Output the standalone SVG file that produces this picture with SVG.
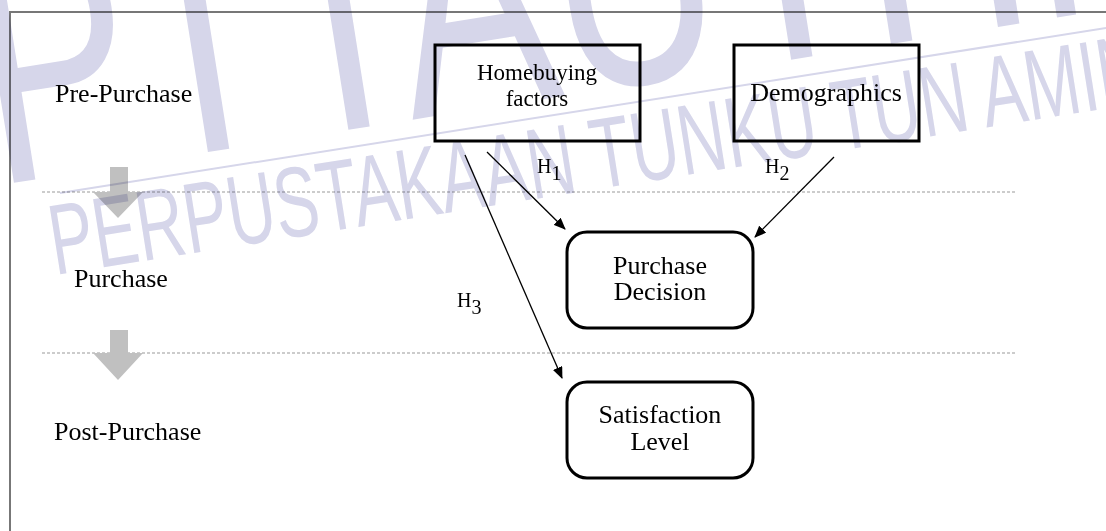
<svg xmlns="http://www.w3.org/2000/svg" width="1106" height="531" viewBox="0 0 1106 531">
<defs>
<marker id="ah" markerWidth="12" markerHeight="10" refX="11" refY="5" orient="auto" markerUnits="userSpaceOnUse">
<path d="M0,0 L12,5 L0,10 Z" fill="#000"/>
</marker>
</defs>
<style>
.lbl{font-family:"Liberation Serif","Times New Roman",serif;font-size:26px;fill:#000}
.hl{font-family:"Liberation Serif","Times New Roman",serif;font-size:20px;fill:#000}
.box{fill:#fff;stroke:#000;stroke-width:3}
.conn{stroke:#000;stroke-width:1.3;fill:none;marker-end:url(#ah)}
.dot{stroke:#999;stroke-width:1.2;stroke-dasharray:3 2}
.garrow{fill:#c0c0c0}
.wm{font-family:"Liberation Sans",Arial,sans-serif;fill:#d6d6ea;mix-blend-mode:multiply}
</style>
<rect width="1106" height="531" fill="#fff"/>
<g id="frame">
<path d="M10,531 L10,12 L1106,12" fill="none" stroke="#777" stroke-width="2"/>
</g>
<g id="stages">
<line class="dot" x1="42" y1="192" x2="1015" y2="192"/>
<line class="dot" x1="42" y1="353" x2="1015" y2="353"/>
<path class="garrow" d="M110,167 H128 V192 H143 L118,218 L93,192 H110 Z"/>
<path class="garrow" d="M110,330 H128 V353 H143 L118,380 L93,353 H110 Z"/>
<text class="lbl" x="55" y="102">Pre-Purchase</text>
<text class="lbl" x="74" y="287">Purchase</text>
<text class="lbl" x="54" y="440">Post-Purchase</text>
</g>
<g id="homebuying">
<rect class="box" x="435" y="45" width="205" height="96"/>
<text class="lbl" x="537" y="80" text-anchor="middle" style="font-size:23px">Homebuying</text>
<text class="lbl" x="537" y="106" text-anchor="middle" style="font-size:23px">factors</text>
</g>
<g id="demographics">
<rect class="box" x="734" y="45" width="185" height="96"/>
<text class="lbl" x="826" y="101" text-anchor="middle">Demographics</text>
</g>
<g id="purchase-decision">
<rect class="box" x="567" y="232" width="186" height="96" rx="20" ry="20"/>
<text class="lbl" x="660" y="274" text-anchor="middle">Purchase</text>
<text class="lbl" x="660" y="300" text-anchor="middle">Decision</text>
</g>
<g id="satisfaction-level">
<rect class="box" x="567" y="382" width="186" height="96" rx="20" ry="20"/>
<text class="lbl" x="660" y="423" text-anchor="middle">Satisfaction</text>
<text class="lbl" x="660" y="450" text-anchor="middle">Level</text>
</g>
<g id="connectors">
<line class="conn" x1="487" y1="152" x2="565" y2="229"/>
<line class="conn" x1="834" y1="157" x2="755" y2="237"/>
<line class="conn" x1="465" y1="155" x2="562" y2="378"/>
<text class="hl" x="537" y="173">H<tspan dy="7">1</tspan></text>
<text class="hl" x="765" y="173">H<tspan dy="7">2</tspan></text>
<text class="hl" x="457" y="307">H<tspan dy="7">3</tspan></text>
</g>
<g id="watermark">
<text class="wm" x="-5" y="185" font-size="330" textLength="1250" lengthAdjust="spacingAndGlyphs" transform="rotate(-9 0 185)">PTTAUTHM</text>
<text class="wm" x="55" y="275" font-size="100" textLength="1200" lengthAdjust="spacingAndGlyphs" transform="rotate(-9 55 275)">PERPUSTAKAAN TUNKU TUN AMINAH</text>
<line x1="60" y1="193" x2="1106" y2="28" stroke="#d6d6ea" stroke-width="2" style="mix-blend-mode:multiply"/>
</g>
</svg>
